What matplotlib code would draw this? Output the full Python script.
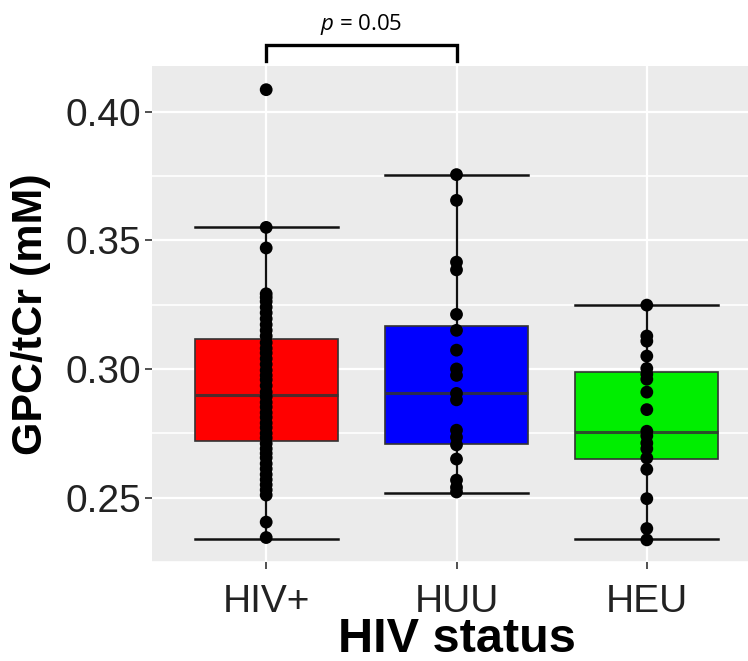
import matplotlib
matplotlib.use("Agg")
import matplotlib.pyplot as plt
import numpy as np

plt.rcParams['font.family'] = ['Liberation Sans', 'DejaVu Sans']
plt.rcParams['mathtext.fontset'] = 'custom'
plt.rcParams['mathtext.it'] = 'Open Sans:italic'
plt.rcParams['mathtext.rm'] = 'Open Sans'

categories = ["HIV+", "HUU", "HEU"]
box_colors = ["#FF0000", "#0000FF", "#00EE00"]

# box summary values
q1 = [0.2720, 0.2710, 0.2652]
median = [0.2898, 0.2905, 0.2756]
q3 = [0.3115, 0.3165, 0.2990]
whisker_low = [0.2340, 0.2520, 0.2338]
whisker_high = [0.3550, 0.3755, 0.3248]

# individual points
hiv_pos = [0.4085, 0.3550, 0.3470, 0.3292, 0.3278, 0.3262, 0.3240, 0.3218,
           0.3195, 0.3172, 0.3150, 0.3128, 0.3102, 0.3080, 0.3062, 0.3040,
           0.3018, 0.2995, 0.2975, 0.2958, 0.2935, 0.2910, 0.2892, 0.2870,
           0.2852, 0.2830, 0.2812, 0.2790, 0.2772, 0.2750, 0.2732, 0.2710,
           0.2690, 0.2672, 0.2655, 0.2632, 0.2612, 0.2590, 0.2570, 0.2550,
           0.2530, 0.2510, 0.2405, 0.2345]
huu = [0.3755, 0.3655, 0.3415, 0.3385, 0.3212, 0.3150, 0.3073, 0.3000,
       0.2975, 0.2905, 0.2880, 0.2762, 0.2735, 0.2705, 0.2650, 0.2568,
       0.2540, 0.2522]
heu = [0.3248, 0.3128, 0.3108, 0.3050, 0.3002, 0.2980, 0.2960, 0.2910,
       0.2842, 0.2758, 0.2740, 0.2712, 0.2690, 0.2654, 0.2610, 0.2496,
       0.2380, 0.2336]
points = [hiv_pos, huu, heu]

p_text = "$p$ = 0.05"
bracket_groups = (1, 2)

fig = plt.figure(figsize=(7.48, 6.61), dpi=100)
ax = fig.add_axes([152/748, 1-562/661, (761-152)/748, (562-66)/661])
ax.set_facecolor("#EBEBEB")
for s in ax.spines.values():
    s.set_visible(False)

pos = np.arange(1, len(categories) + 1)

stats = []
for i in range(len(categories)):
    stats.append(dict(med=median[i], q1=q1[i], q3=q3[i],
                      whislo=whisker_low[i], whishi=whisker_high[i], fliers=[]))

bp = ax.bxp(stats, positions=pos, widths=0.75, capwidths=0.75,
            patch_artist=True, showfliers=False,
            boxprops=dict(edgecolor='#333333', lw=1.2),
            medianprops=dict(color='#333333', lw=2.2, alpha=0.85),
            whiskerprops=dict(color='#111111', lw=1.6),
            capprops=dict(color='#111111', lw=1.8), zorder=2)
for patch, c in zip(bp['boxes'], box_colors):
    patch.set_facecolor(c)

for i, vals in enumerate(points):
    ax.scatter(np.full(len(vals), pos[i]), vals, s=85, color='black', zorder=4,
               edgecolors='none')

ax.set_xlim(0.4, 3.6)
ax.set_ylim(0.2269, 0.4177)

major = [0.25, 0.30, 0.35, 0.40]
minor = [0.225, 0.275, 0.325, 0.375]
ax.set_yticks(major)
ax.set_yticklabels(["%.2f" % v for v in major])
ax.set_yticks(minor, minor=True)
ax.set_xticks(pos)
ax.set_xticklabels(categories)
ax.yaxis.grid(True, which='major', color='white', lw=1.6)
ax.yaxis.grid(True, which='minor', color='white', lw=1.2)
ax.xaxis.grid(True, which='major', color='white', lw=1.6)
ax.tick_params(axis='y', which='minor', length=0)
ax.set_axisbelow(True)
ax.tick_params(axis='both', which='major', colors='#333333', labelsize=28,
               length=5, width=1.2, labelcolor='#222222', pad=3)
ax.tick_params(axis='x', which='major', pad=11)

ax.set_xlabel("HIV status", fontsize=35, fontweight='bold', labelpad=-2)
ax.set_ylabel("GPC/tCr (mM)", fontsize=31, fontweight='bold', labelpad=10)

# significance bracket
x0, x1 = bracket_groups
ytop, yleg = 0.4258, 0.4196
ax.plot([x0, x0, x1, x1], [yleg, ytop, ytop, yleg], color='black', lw=2.4,
        clip_on=False, solid_joinstyle='miter')
ax.text((x0 + x1) / 2, 0.4290, p_text, ha='center', va='bottom', fontsize=16,
        family='Open Sans')

fig.savefig("out.png", dpi=100)
